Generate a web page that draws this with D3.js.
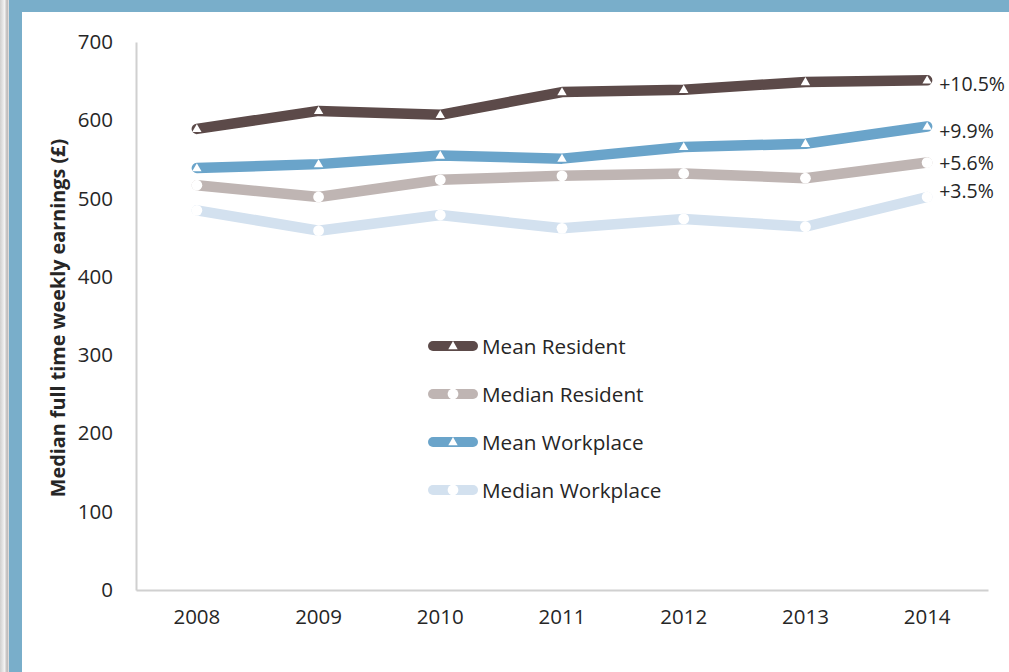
<!DOCTYPE html>
<html>
<head>
<meta charset="utf-8">
<script src="https://cdn.jsdelivr.net/npm/d3@7"></script>
<style>
  html, body { margin: 0; padding: 0; background: #ffffff; }
  svg { display: block; }
  text { font-family: "Open Sans", "Noto Sans", sans-serif; fill: #262626; }
</style>
</head>
<body>
<svg id="chart" width="1009" height="672"></svg>
<script>
// Weekly earnings by year, four measures
const years = ["2008", "2009", "2010", "2011", "2012", "2013", "2014"];
const meanResident     = [589, 612, 607, 636, 639, 649, 651];
const medianResident   = [517, 502, 524, 529, 532, 526, 546];
const meanWorkplace    = [539, 544, 555, 551, 566, 570, 592];
const medianWorkplace  = [485, 459, 479, 462, 474, 464, 502];
const seriesNames  = ["Mean Resident", "Median Resident", "Mean Workplace", "Median Workplace"];
const seriesColors = ["#5c4a49", "#bfb5b3", "#6aa4ca", "#d3e1ef"];
const seriesMarkers = ["triangle", "circle", "triangle", "circle"];
const changeLabels = ["+10.5%", "+5.6%", "+9.9%", "+3.5%"];
const yTicks = [0, 100, 200, 300, 400, 500, 600, 700];
const yTitle = "Median full time weekly earnings (£)";

const seriesValues = [meanResident, medianResident, meanWorkplace, medianWorkplace];

(function draw() {
  const svg = d3.select("#chart");
  const W = 1009, H = 672;

  // framed backdrop: blue border with a pale strip at the far left
  const defs = svg.append("defs");
  const grad = defs.append("linearGradient").attr("id", "strip").attr("x1", 0).attr("x2", 1);
  grad.append("stop").attr("offset", "0%").attr("stop-color", "#cfcfcf");
  grad.append("stop").attr("offset", "50%").attr("stop-color", "#f2f2f2");
  grad.append("stop").attr("offset", "80%").attr("stop-color", "#b9b6b6");
  grad.append("stop").attr("offset", "100%").attr("stop-color", "#e9e9e9");
  svg.append("rect").attr("x", 0).attr("y", 0).attr("width", W).attr("height", H).attr("fill", "#79aeca");
  svg.append("rect").attr("x", 0).attr("y", 0).attr("width", 9).attr("height", H).attr("fill", "url(#strip)");
  svg.append("rect").attr("x", 22).attr("y", 12).attr("width", W).attr("height", H).attr("fill", "#ffffff");

  const plotL = 136, plotR = 988, plotT = 42, plotB = 590;

  const x = d3.scaleBand().domain(years).range([plotL, plotR]);
  const y = d3.scaleLinear().domain([0, 700]).range([plotB, plotT]);
  const cx = d => x(d) + x.bandwidth() / 2;

  // axes
  const yAxis = svg.append("g").attr("transform", `translate(${plotL},0)`)
    .call(d3.axisLeft(y).tickValues(yTicks).tickSize(0).tickPadding(23));
  yAxis.select(".domain").attr("stroke", "#d0d0d0").attr("stroke-width", 2);
  yAxis.selectAll("text").style("font-size", "20.5px").attr("fill", "#262626");

  const xAxis = svg.append("g").attr("transform", `translate(0,${plotB})`)
    .call(d3.axisBottom(x).tickSize(0).tickPadding(19));
  xAxis.select(".domain").attr("stroke", "#d0d0d0").attr("stroke-width", 2);
  xAxis.selectAll("text").style("font-size", "20.5px").attr("fill", "#262626");

  svg.append("text")
    .attr("transform", `translate(65,318) rotate(-90)`)
    .attr("text-anchor", "middle")
    .style("font-size", "19.8px").style("font-weight", "bold")
    .text(yTitle);

  const line = d3.line().x((d, i) => cx(years[i])).y(d => y(d));
  const tri = d3.symbol().type(d3.symbolTriangle).size(38);

  function drawMarker(g, kind, px, py) {
    if (kind === "triangle") {
      g.append("path").attr("d", tri()).attr("transform", `translate(${px},${py + 0.5})`).attr("fill", "#ffffff");
    } else {
      g.append("circle").attr("cx", px).attr("cy", py).attr("r", 5.4).attr("fill", "#ffffff");
    }
  }

  // draw from back to front so the darker series sit on top
  const order = [3, 1, 2, 0];
  order.forEach(k => {
    const g = svg.append("g");
    g.append("path").datum(seriesValues[k]).attr("d", line)
      .attr("fill", "none").attr("stroke", seriesColors[k])
      .attr("stroke-width", 10.5).attr("stroke-linecap", "round").attr("stroke-linejoin", "round");
    seriesValues[k].forEach((v, i) => drawMarker(g, seriesMarkers[k], cx(years[i]), y(v)));
  });

  // end-of-line change labels
  const labelBase = [91, 170, 138, 198];
  seriesValues.forEach((vals, k) => {
    svg.append("text")
      .attr("x", cx(years[years.length - 1]) + 12)
      .attr("y", labelBase[k])
      .style("font-size", "19.5px")
      .text(changeLabels[k]);
  });

  // legend
  const legX = 428, legY0 = 346, legStep = 48;
  seriesNames.forEach((name, k) => {
    const g = svg.append("g").attr("transform", `translate(${legX},${legY0 + k * legStep})`);
    g.append("line").attr("x1", 5).attr("x2", 45).attr("y1", 0).attr("y2", 0)
      .attr("stroke", seriesColors[k]).attr("stroke-width", 10).attr("stroke-linecap", "round");
    drawMarker(g, seriesMarkers[k], 25, 0);
    g.append("text").attr("x", 54).attr("y", 7.5).style("font-size", "20.7px").text(name);
  });
})();
</script>
</body>
</html>
